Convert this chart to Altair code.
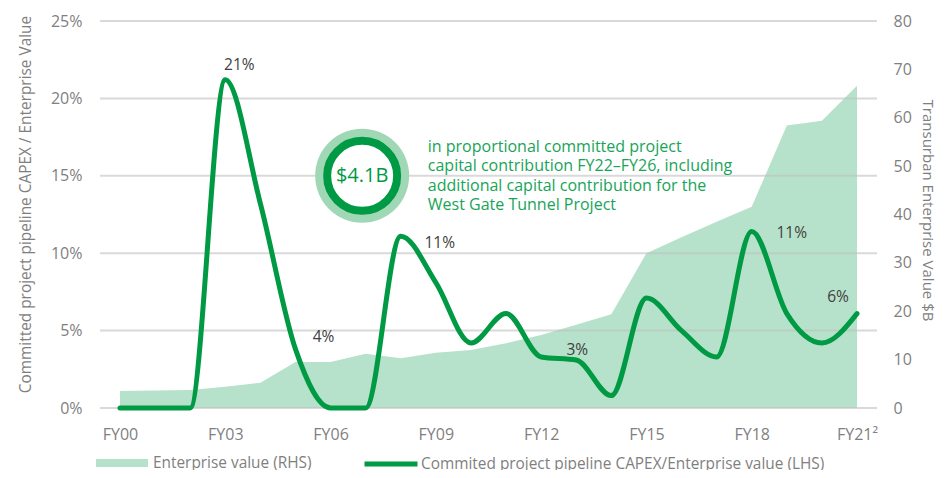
import json
import altair as alt
import pandas as pd

# ---------------- data ----------------
fiscal_years = ["FY00", "FY01", "FY02", "FY03", "FY04", "FY05", "FY06", "FY07",
                "FY08", "FY09", "FY10", "FY11", "FY12", "FY13", "FY14", "FY15",
                "FY16", "FY17", "FY18", "FY19", "FY20", "FY21"]
enterprise_value = [3.5, 3.6, 3.7, 4.4, 5.2, 9.5, 9.5, 11.2, 10.3, 11.4, 12.0,
                    13.4, 15.1, 17.2, 19.4, 32.0, 35.3, 38.5, 41.6, 58.4, 59.4, 66.6]
capex_ratio = [0, 0, 0, 21.2, 13.2, 3.8, 0, 0, 11.1, 8.1, 4.2, 6.1, 3.3, 3.1,
               0.8, 7.1, 5.0, 3.3, 11.4, 6.1, 4.2, 6.1]
left_ticks = [0, 5, 10, 15, 20, 25]
right_ticks = [0, 10, 20, 30, 40, 50, 60, 70, 80]
x_tick_years = ["FY00", "FY03", "FY06", "FY09", "FY12", "FY15", "FY18", "FY21"]
footnote_year = "FY21"
footnote_mark = "\u00b2"
labelled_years = ["FY03", "FY05", "FY08", "FY13", "FY18", "FY21"]
series_names = ["Enterprise value (RHS)",
                "Commited project pipeline CAPEX/Enterprise value (LHS)"]
callout_value = ["$4.1B"]
callout_text = ["in proportional committed project",
                "capital contribution FY22\u2013FY26, including",
                "additional capital contribution for the",
                "West Gate Tunnel Project"]

# ---------------- styling ----------------
FONT = "Open Sans"
GRAY = "#7f7f7f"
LINE = "#009A44"
AREA = "#B6E2CB"
RING = "#A0D8B6"
TXTGREEN = "#17A458"
LABEL = "#404040"

label_offsets = [(14, -15), (28, -12), (39, 7), (1, -10), (40, 1), (-19, -17)]
callout_pos = (6.9, 15.0)   # year index, percent
callout_text_x = 8.77
LINE_H = 19.5

df = pd.DataFrame({
    "fy": fiscal_years,
    "idx": list(range(len(fiscal_years))),
    "ev": enterprise_value,
    "ratio": capex_ratio,
    "ev_name": series_names[0],
    "ratio_name": series_names[1],
})
df["label"] = df["ratio"].round(0).astype(int).astype(str) + "%"

x_values = [fiscal_years.index(v) for v in x_tick_years]
tick_text = [fy + (footnote_mark if fy == footnote_year else "") for fy in fiscal_years]
x_label_expr = json.dumps(tick_text) + "[datum.value]"

x_scale = alt.Scale(domain=[-0.57, 21.57], nice=False, zero=False)
left_scale = alt.Scale(domain=[0, 25], nice=False)

x_axis = alt.Axis(values=x_values, labelExpr=x_label_expr,
                  grid=False, domain=False, ticks=False, labelFontSize=16,
                  labelColor=GRAY, labelFont=FONT, labelPadding=18, title="")


def xq(field):
    return alt.X(field, type="quantitative", scale=x_scale, axis=x_axis)


area = alt.Chart(df).mark_area(opacity=1).encode(
    x=xq("idx"),
    y=alt.Y("ev:Q", scale=alt.Scale(domain=[0, 80], nice=False),
            axis=alt.Axis(orient="right", values=right_ticks, grid=False, domain=False,
                          ticks=False, labelFontSize=16, labelColor=GRAY, labelFont=FONT,
                          labelPadding=16, title="Transurban Enterprise Value $B",
                          titleFontSize=15, titleFont=FONT, titleColor=GRAY,
                          titleFontWeight="normal", titlePadding=8, titleY=189)),
    fill=alt.Fill("ev_name:N", scale=alt.Scale(domain=[series_names[0]], range=[AREA]),
                  legend=alt.Legend(orient="none", legendX=-4, legendY=416, title=None,
                                    symbolType="M-1,-0.154H1V0.154H-1Z", symbolSize=2704,
                                    symbolStrokeWidth=0, symbolOpacity=1,
                                    labelFontSize=15.4, labelColor=GRAY, labelFont=FONT,
                                    labelOffset=5, labelLimit=0, padding=0)),
)

grid_df = pd.DataFrame({"v": left_ticks})
rules = alt.Chart(grid_df).mark_rule(color="#bfbfbf", opacity=0.6, strokeWidth=2).encode(
    y=alt.Y("v:Q", scale=left_scale, axis=None)
)

line = alt.Chart(df).mark_line(strokeWidth=5, interpolate="monotone", strokeCap="round").encode(
    x=xq("idx"),
    y=alt.Y("ratio:Q", scale=left_scale,
            axis=alt.Axis(orient="left", values=left_ticks, labelExpr="datum.value + '%'",
                          grid=False, domain=False, ticks=False, labelFontSize=16,
                          labelColor=GRAY, labelFont=FONT, labelPadding=18,
                          title="Committed project pipeline CAPEX / Enterprise Value",
                          titleFontSize=15.4, titleFont=FONT, titleColor=GRAY,
                          titleFontWeight="normal", titlePadding=17, titleY=183)),
    stroke=alt.Stroke("ratio_name:N", scale=alt.Scale(domain=[series_names[1]], range=[LINE]),
                      legend=alt.Legend(orient="none", legendX=262, legendY=414, title=None,
                                        symbolType="stroke", symbolSize=2809,
                                        symbolStrokeWidth=5,
                                        labelFontSize=15.4, labelColor=GRAY, labelFont=FONT,
                                        labelOffset=1, labelLimit=0, padding=0)),
)

label_layers = []
for fy, (dx, dy) in zip(labelled_years, label_offsets):
    label_layers.append(
        alt.Chart(df).transform_filter(alt.datum.fy == fy).mark_text(
            dx=dx, dy=dy, font=FONT, fontSize=15.5, fontWeight="normal", color=LABEL
        ).encode(x=xq("idx"),
                 y=alt.Y("ratio:Q", scale=left_scale, axis=None), text="label:N")
    )

callout_df = pd.DataFrame({"x": [callout_pos[0]], "y": [callout_pos[1]], "t": callout_value})
cy = alt.Y("y:Q", scale=left_scale, axis=None)
ring_outer = alt.Chart(callout_df).mark_point(shape="circle", filled=True, size=8836,
                                              color=RING, opacity=1).encode(x=xq("x"), y=cy)
ring_inner = alt.Chart(callout_df).mark_point(shape="circle", filled=False, size=4900,
                                              fill="white", fillOpacity=1, stroke=LINE,
                                              strokeWidth=8, opacity=1).encode(x=xq("x"), y=cy)
callout_label = alt.Chart(callout_df).mark_text(font=FONT, fontSize=20, color=LINE).encode(
    x=xq("x"), y=cy, text="t:N")

para_df = pd.DataFrame({"x": [callout_text_x], "y": [callout_pos[1]], "t": [callout_text]})
para = alt.Chart(para_df).mark_text(font=FONT, fontSize=16, color=TXTGREEN, align="left",
                                    baseline="middle", lineHeight=LINE_H,
                                    dy=-(len(callout_text) - 1) * LINE_H / 2).encode(
    x=xq("x"), y=cy, text="t")

chart = alt.layer(area, rules, line, *label_layers, ring_outer, ring_inner,
                  callout_label, para).resolve_scale(y="independent").properties(
    width=777, height=387,
    autosize=alt.AutoSizeParams(type="none"),
    padding={"left": 92, "top": 13, "right": 61, "bottom": 62},
    background="white",
).configure_view(stroke=None)

chart.save("out.html", embed_options={"renderer": "svg", "actions": False})
